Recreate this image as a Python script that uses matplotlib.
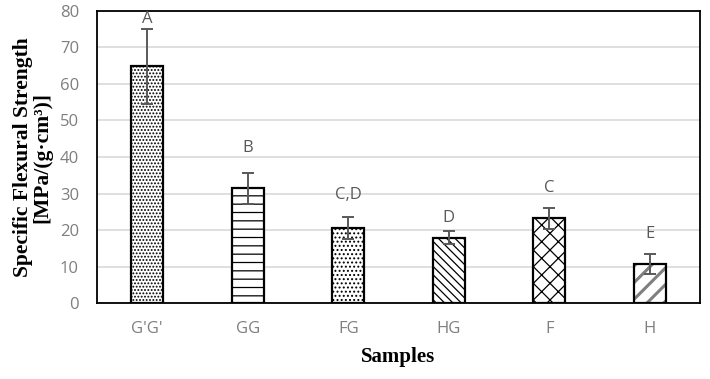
import numpy as np
import matplotlib
matplotlib.use("Agg")
from matplotlib import pyplot as plt

# data
samples = ["G'G'", "GG", "FG", "HG", "F", "H"]
strength = [64.8, 31.4, 20.5, 17.9, 23.2, 10.7]
err = [10.3, 4.2, 3.0, 1.7, 2.8, 2.8]
letters = ["A", "B", "C,D", "D", "C", "E"]
letter_y = [77.8, 42.5, 29.6, 23.3, 31.6, 18.9]

hatches = ['.....', '--', '....', '\\\\\\\\', 'xx', '//']
hcolors = ['black', 'black', 'black', 'black', 'black', '#7f7f7f']

plt.rcParams['hatch.linewidth'] = 0.9
fig = plt.figure(figsize=(7.10, 3.79), dpi=100)
ax = fig.add_axes([0.1366, 0.2005, 0.8494, 0.7705])

x = np.arange(len(samples))
w = 0.32
for i in range(len(samples)):
    lw = 2.2 if i == 5 else 0.9
    with plt.rc_context({'hatch.linewidth': lw}):
        ax.bar(x[i], strength[i], w, color='white', edgecolor=hcolors[i],
               hatch=hatches[i], linewidth=0, zorder=2)
    ax.bar(x[i], strength[i], w, color='none', edgecolor='black',
           linewidth=1.6, zorder=3)

ax.errorbar(x, strength, yerr=err, fmt='none', ecolor='#595959',
            elinewidth=1.4, capsize=4, capthick=1.4, zorder=4)

for i in range(len(samples)):
    ax.text(x[i], letter_y[i], letters[i], ha='center', va='center',
            fontsize=12, color='#595959', family='Open Sans')

ax.set_xlim(-0.5, len(samples) - 0.5)
ax.set_ylim(0, 80)
ax.set_yticks(range(0, 81, 10))
ax.set_xticks(x)
ax.set_xticklabels(samples)
ax.yaxis.grid(True, color='#d9d9d9', linewidth=1.2, zorder=0)
ax.set_axisbelow(True)
for s in ax.spines.values():
    s.set_color('black')
    s.set_linewidth(1.3)
ax.tick_params(length=0, labelsize=12, labelcolor='#7f7f7f')
ax.tick_params(axis='x', pad=13)
ax.tick_params(axis='y', pad=13)
for lab in ax.get_xticklabels() + ax.get_yticklabels():
    lab.set_family('Open Sans')

ax.set_ylabel("Specific Flexural Strength\n[MPa/(g·cm³)]", fontsize=15.5,
              fontweight='bold', family='Liberation Serif', labelpad=5,
              linespacing=1.0)
ax.set_xlabel("Samples", fontsize=15, fontweight='bold',
              family='Liberation Serif', labelpad=7)

fig.savefig("out.png", dpi=100)
